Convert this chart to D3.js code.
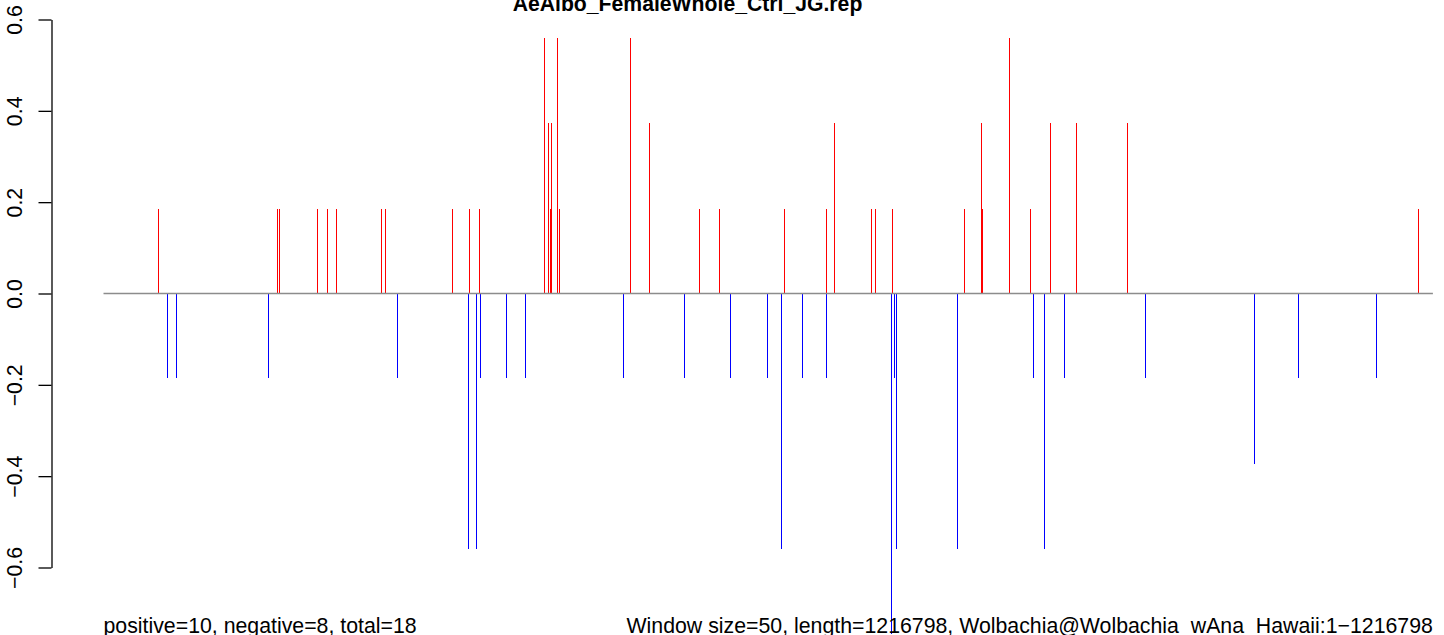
<!DOCTYPE html>
<html>
<head>
<meta charset="utf-8">
<script src="https://cdn.jsdelivr.net/npm/d3@7"></script>
<style>
  html, body { margin: 0; padding: 0; background: #fff; }
  svg { display: block; }
  text { font-family: "Liberation Sans", Arial, sans-serif; }
</style>
</head>
<body>
<svg id="chart" width="1444" height="635"></svg>
<script>
// ---- data ----
const title = "AeAlbo_FemaleWhole_Ctrl_JG.rep";
const genomeLength = 1216798;
const yTicks = [-0.6, -0.4, -0.2, 0.0, 0.2, 0.4, 0.6];

const posPositions = [50342, 159262, 161093, 195874, 205027, 213265, 254453, 258115, 319440,
  335000, 344153, 403647, 407309, 409139, 410054, 415546, 417377, 482363, 499754, 545519,
  563825, 623319, 661762, 669084, 702950, 706612, 722172, 788073, 803633, 804549, 829262,
  848483, 866789, 890587, 937267, 1203620];
const posValues = [0.186, 0.186, 0.186, 0.186, 0.186, 0.186, 0.186, 0.186, 0.186,
  0.186, 0.186, 0.559, 0.373, 0.186, 0.373, 0.559, 0.186, 0.559, 0.373, 0.186,
  0.186, 0.186, 0.186, 0.373, 0.186, 0.186, 0.186, 0.186, 0.373, 0.186, 0.559,
  0.186, 0.373, 0.373, 0.373, 0.186];

const negPositions = [58579, 66817, 151025, 269098, 334085, 341407, 345068, 368866, 386257,
  475956, 531789, 573893, 607759, 620573, 639795, 661762, 721256, 724002, 725833, 781666,
  851229, 861297, 879603, 953743, 1053510, 1093784, 1165177];
const negValues = [-0.186, -0.186, -0.186, -0.186, -0.559, -0.559, -0.186, -0.186, -0.186,
  -0.186, -0.186, -0.186, -0.186, -0.559, -0.186, -0.186, -0.745, -0.186, -0.559, -0.559,
  -0.186, -0.559, -0.186, -0.186, -0.373, -0.186, -0.186];

const leftNote = "positive=10, negative=8, total=18";
const rightNote = "Window size=50, length=1216798, Wolbachia@Wolbachia_wAna_Hawaii:1\u22121216798";

// ---- drawing ----
const svg = d3.select("#chart");
const x = d3.scaleLinear().domain([1, genomeLength]).range([103.5, 1432.9]);
const y = d3.scaleLinear().domain([-0.6, 0.6]).range([567.5, 19.5]);

const bars = posPositions.map((p, i) => ({p, v: posValues[i], c: "#ff0000"}))
  .concat(negPositions.map((p, i) => ({p, v: negValues[i], c: "#0000ff"})));

svg.append("g").selectAll("line").data(bars).enter().append("line")
  .attr("x1", d => x(d.p)).attr("x2", d => x(d.p))
  .attr("y1", y(0)).attr("y2", d => y(d.v))
  .attr("stroke", d => d.c).attr("stroke-width", 1)
  .attr("shape-rendering", "crispEdges");

svg.append("line")
  .attr("x1", x(1)).attr("x2", x(genomeLength))
  .attr("y1", y(0)).attr("y2", y(0))
  .attr("stroke", "#8c8c8c").attr("stroke-width", 1.3);

// y axis
const axis = d3.axisLeft(y).tickValues(yTicks).tickSize(13).tickSizeOuter(0)
  .tickFormat(d3.format(".1f"));
const ag = svg.append("g").attr("transform", "translate(51.5,0)").call(axis);
ag.select(".domain").attr("stroke", "#000").attr("stroke-width", 1.3);
ag.selectAll(".tick line").attr("stroke", "#000").attr("stroke-width", 1.3);
ag.selectAll(".tick text")
  .attr("transform", "rotate(-90)")
  .attr("x", 0).attr("y", -29.5).attr("dy", null)
  .attr("text-anchor", "middle")
  .attr("font-family", "Liberation Sans, Arial, sans-serif")
  .attr("font-size", 21.3).attr("fill", "#000");

// title
svg.append("text").attr("x", 687.5).attr("y", 10.7)
  .attr("text-anchor", "middle").attr("font-weight", "bold").attr("font-size", 21.2)
  .text(title);

// bottom notes
svg.append("text").attr("x", 103.5).attr("y", 633.4)
  .attr("font-size", 21.3).text(leftNote);
svg.append("text").attr("x", 1432.9).attr("y", 633.4)
  .attr("text-anchor", "end").attr("font-size", 21.3).text(rightNote);
</script>
</body>
</html>
